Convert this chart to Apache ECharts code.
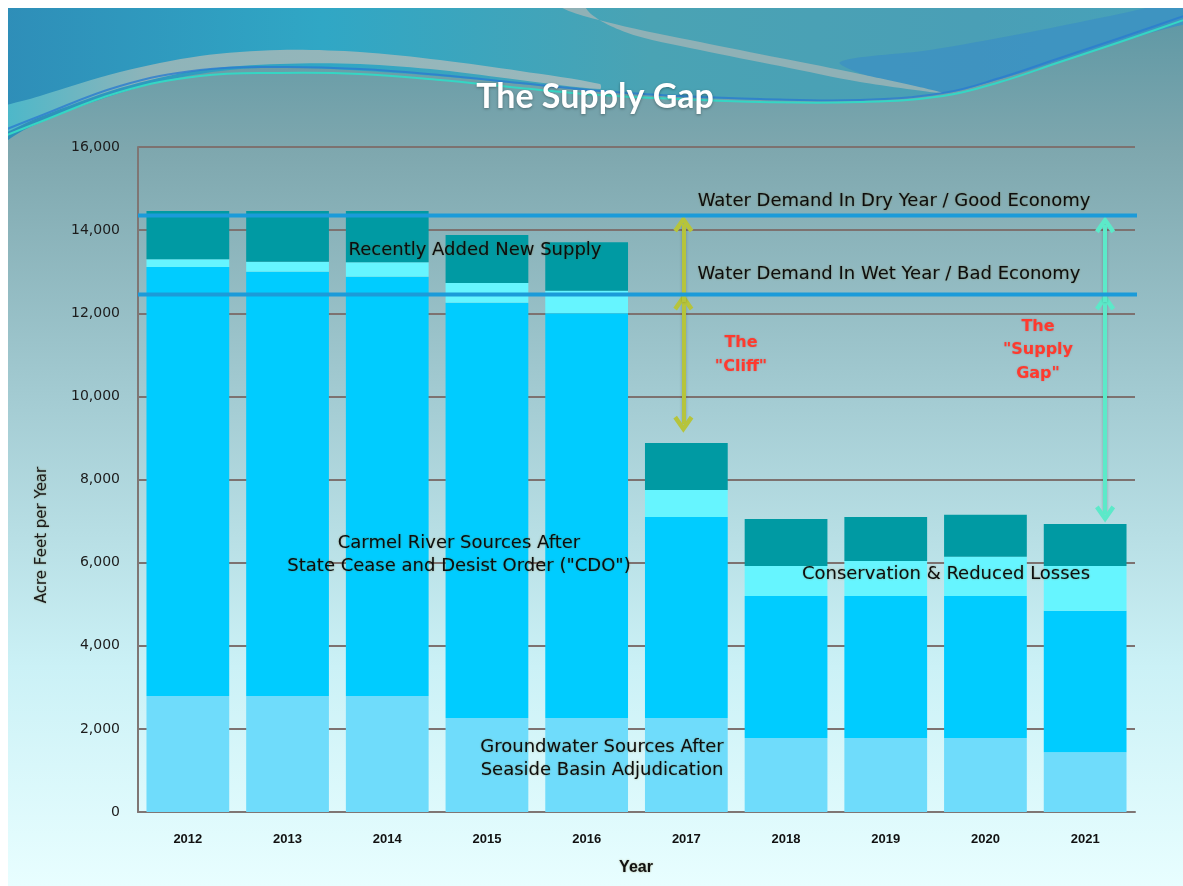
<!DOCTYPE html>
<html>
<head>
<meta charset="utf-8">
<title>The Supply Gap</title>
<script src="https://cdn.jsdelivr.net/npm/echarts@6/dist/echarts.min.js"></script>
<style>
html, body { margin: 0; padding: 0; background: #fff; }
#chart { width: 1183px; height: 886px; }
</style>
</head>
<body>
<div id="chart"></div>
<script>
// data (acre feet per year)
const years = ['2012', '2013', '2014', '2015', '2016', '2017', '2018', '2019', '2020', '2021']
const groundwater = [2790, 2790, 2790, 2260, 2260, 2260, 1780, 1780, 1780, 1440]
const carmelRiver = [10320, 10210, 10090, 9990, 9740, 4840, 3420, 3420, 3420, 3400]
const conservation = [190, 240, 350, 480, 540, 650, 720, 840, 940, 1080]
const newSupply = [1160, 1220, 1230, 1150, 1170, 1130, 1130, 1060, 1010, 1010]

const yMin = 0
const yMax = 16000
const yStep = 2000

// demand levels (horizontal lines)
const dryYearDemand = 14350
const wetYearDemand = 12450

// arrows: x in category units (0..10 across the plot), y ends in acre feet
const cliffArrow = { x: 5.47, top: 14150, mid: 12270, bottom: 9330 }
const gapArrow = { x: 9.7, top: 14130, mid: 12270, bottom: 7170 }

// open chevron head, points up
const chevron = 'path://M5,0 L10,7.4 L8.2,8.8 L5,4 L1.8,8.8 L0,7.4 Z'

const myChart = echarts.init(document.getElementById('chart'))

function arrow(a, color) {
	const line = { color: color, width: 4, type: 'solid', shadowColor: 'rgba(0,0,0,0.25)', shadowBlur: 3 }
	const head = { symbol: chevron, symbolSize: [20, 17], itemStyle: { color: color } }
	return [
		[
			Object.assign({ coord: [a.x, a.bottom], lineStyle: line }, head),
			Object.assign({ coord: [a.x, a.mid] }, head),
		],
		[
			{ coord: [a.x, a.mid], symbol: 'none', lineStyle: line },
			Object.assign({ coord: [a.x, a.top] }, head),
		],
	]
}

function txt(text, x, y, font, color, extra) {
	return Object.assign({
		type: 'text',
		x: x,
		y: y,
		z: 100,
		silent: true,
		style: {
			text: text,
			font: font,
			fill: color,
			align: 'center',
			verticalAlign: 'middle',
			textAlign: 'center',
			textVerticalAlign: 'middle',
			lineHeight: 23,
			textShadowColor: 'rgba(90,70,0,0.45)',
			textShadowBlur: 2,
		},
	}, extra || {})
}

const labelFont = '18px "DejaVu Sans"'
const redFont = 'bold 16px "DejaVu Sans"'

function redText(text, x, y, lh) {
	return txt(text, x, y, redFont, '#ff3a2e', { style: {
		text: text, font: redFont, fill: '#ff3a2e', lineHeight: lh,
		align: 'center', verticalAlign: 'middle', textAlign: 'center', textVerticalAlign: 'middle',
		textShadowColor: 'rgba(120,0,0,0.25)', textShadowBlur: 2,
	} })
}

let option = {
	backgroundColor: '#ffffff',
	animation: false,
	graphic: {
		elements: [
			{
				type: 'rect', z: -20, silent: true,
				shape: { x: 8, y: 8, width: 1175, height: 878 },
				style: {
					fill: {
						type: 'linear', x: 0, y: 0, x2: 0, y2: 1,
						colorStops: [
							{ offset: 0, color: '#5d97a4' },
							{ offset: 0.16, color: '#7ea7ae' },
							{ offset: 0.45, color: '#a4ccd3' },
							{ offset: 0.75, color: '#cbf1f6' },
							{ offset: 1, color: '#e8feff' },
						],
					},
				},
			},
			{
				type: 'polygon', z: -19, silent: true,
				shape: {
					smooth: 0.35,
					points: [[-40, -40], [1230, -40], [1230, 8], [1150, 32], [1060, 60], [990, 82], [943, 93], [860, 100], [760, 100], [660, 96], [560, 88], [470, 79], [380, 72], [300, 68], [230, 70], [160, 82], [90, 103], [30, 127], [-40, 160]],
				},
				style: {
					fill: {
						type: 'linear', x: 0, y: 0, x2: 1, y2: 0,
						colorStops: [
							{ offset: 0, color: '#2e88b5' },
							{ offset: 0.3, color: '#30a7c5' },
							{ offset: 0.55, color: '#4aa3b4' },
							{ offset: 0.8, color: '#4a9fb6' },
							{ offset: 1, color: '#45a3bb' },
						],
					},
				},
			},
			{
				type: 'polygon', z: -18, silent: true,
				shape: {
					smooth: 0.3,
					points: [[840, 62], [930, 50], [1020, 34], [1110, 16], [1230, -8], [1230, 10], [1150, 33], [1060, 61], [990, 82], [943, 93], [880, 80]],
				},
				style: { fill: '#3b8ec4', opacity: 0.7 },
			},
			{
				type: 'polygon', z: -17, silent: true,
				shape: {
					smooth: 0.3,
					points: [[-40, 122], [40, 96], [120, 72], [200, 56], [280, 50], [360, 52], [440, 60], [520, 71], [600, 84], [600, 89], [520, 80], [440, 70], [360, 64], [280, 64], [200, 70], [120, 88], [40, 117], [-40, 150]],
				},
				style: {
					fill: {
						type: 'linear', x: 0, y: 0, x2: 1, y2: 0,
						colorStops: [
							{ offset: 0, color: '#35b9cf' },
							{ offset: 0.3, color: '#8fb4b9' },
							{ offset: 1, color: '#9ab8bc' },
						],
					},
				},
			},
			{
				type: 'polygon', z: -16, silent: true,
				shape: {
					smooth: 0.3,
					points: [[520, -40], [555, 4], [615, 24], [700, 42], [780, 58], [860, 74], [943, 93], [860, 82], [780, 66], [700, 50], [625, 32], [585, 6], [600, -40]],
				},
				style: { fill: '#8fb1b6' },
			},
			{
				type: 'polyline', z: -15, silent: true,
				shape: {
					smooth: 0.4,
					points: [[-40, 148], [40, 116], [120, 86], [200, 70], [280, 67], [360, 69], [440, 75], [520, 83], [600, 91], [680, 96], [760, 99], [860, 100], [943, 93], [1000, 78], [1060, 58], [1120, 38], [1230, 0]],
				},
				style: { stroke: '#2a7cd0', lineWidth: 2, fill: null, opacity: 0.8 },
			},
			{
				type: 'polyline', z: -15, silent: true,
				shape: {
					smooth: 0.4,
					points: [[-40, 154], [40, 122], [120, 92], [200, 76], [280, 73], [360, 74], [440, 80], [520, 88], [600, 95], [680, 99], [760, 102], [860, 102], [943, 96], [1000, 82], [1060, 62], [1120, 42], [1230, 4]],
				},
				style: { stroke: '#35d6c4', lineWidth: 2, fill: null },
			},
			{ type: 'rect', z: -14, silent: true, shape: { x: 0, y: 0, width: 1183, height: 8 }, style: { fill: '#ffffff' } },
			{ type: 'rect', z: -14, silent: true, shape: { x: 0, y: 0, width: 8, height: 886 }, style: { fill: '#ffffff' } },

			// title
			txt('The Supply Gap', 595, 97, 'bold 34px Lato', '#ffffff', {
				style: {
					text: 'The Supply Gap', font: 'bold 34px Lato', fill: '#ffffff',
					align: 'center', verticalAlign: 'middle', textAlign: 'center', textVerticalAlign: 'middle',
					textShadowColor: 'rgba(0,0,0,0.35)', textShadowBlur: 3, textShadowOffsetY: 1,
				},
			}),

			// axis names
			txt('Acre Feet per Year', 42, 535, '15px "DejaVu Sans"', '#1a1a1a', { rotation: Math.PI / 2 }),
			txt('Year', 636, 868, 'bold 16px "Liberation Sans"', '#111111'),

			// in-chart annotations
			txt('Recently Added New Supply', 475, 250, labelFont, '#0d0d0d'),
			txt('Water Demand In Dry Year / Good Economy', 894, 201, labelFont, '#0d0d0d'),
			txt('Water Demand In Wet Year / Bad Economy', 889, 274, labelFont, '#0d0d0d'),
			txt('Carmel River Sources After\nState Cease and Desist Order ("CDO")', 459, 555, labelFont, '#0d0d0d'),
			txt('Conservation & Reduced Losses', 946, 574, labelFont, '#0d0d0d'),
			txt('Groundwater Sources After\nSeaside Basin Adjudication', 602, 759, labelFont, '#0d0d0d'),
			redText('The\n"Cliff"', 741, 355, 24),
			redText('The\n"Supply\nGap"', 1038, 350, 23.5),
		],
	},
	grid: {
		left: 138,
		right: 48,
		top: 147,
		bottom: 74,
		containLabel: false,
	},
	xAxis: [
		{
			type: 'category',
			data: years,
			axisLine: { lineStyle: { color: '#7f7674', width: 2 } },
			axisTick: { show: false },
			axisLabel: { color: '#111', fontWeight: 'bold', fontSize: 13, fontFamily: 'Liberation Sans', margin: 21 },
		},
		{ type: 'value', min: 0, max: 10, show: false },
	],
	yAxis: {
		type: 'value',
		min: yMin,
		max: yMax,
		interval: yStep,
		axisLine: { show: true, lineStyle: { color: '#7f7674', width: 2 } },
		axisTick: { show: false },
		splitLine: { lineStyle: { color: '#7d7270', width: 2 } },
		axisLabel: {
			color: '#1c1c1c',
			fontSize: 14,
			fontFamily: 'DejaVu Sans',
			margin: 18,
			formatter: (v) => v.toLocaleString('en-US'),
		},
	},
	series: [
		{
			name: 'Groundwater Sources After Seaside Basin Adjudication',
			type: 'bar', stack: 'supply', data: groundwater,
			itemStyle: { color: '#6fdcfb' }, barCategoryGap: '17%',
		},
		{
			name: 'Carmel River Sources After State Cease and Desist Order ("CDO")',
			type: 'bar', stack: 'supply', data: carmelRiver,
			itemStyle: { color: '#00ccff' }, barCategoryGap: '17%',
		},
		{
			name: 'Conservation & Reduced Losses',
			type: 'bar', stack: 'supply', data: conservation,
			itemStyle: { color: '#66f5ff' }, barCategoryGap: '17%',
		},
		{
			name: 'Recently Added New Supply',
			type: 'bar', stack: 'supply', data: newSupply,
			itemStyle: { color: '#009aa3' }, barCategoryGap: '17%',
		},
		{
			name: 'Water Demand In Dry Year / Good Economy',
			type: 'line', xAxisIndex: 1, data: [[0, dryYearDemand], [10.12, dryYearDemand]],
			symbol: 'none', clip: false, z: 5, silent: true,
			lineStyle: { color: '#1b9bd9', width: 4 },
			markLine: {
				silent: true, symbol: ['none', 'none'], label: { show: false },
				data: arrow(cliffArrow, '#b6c43c'),
			},
		},
		{
			name: 'Water Demand In Wet Year / Bad Economy',
			type: 'line', xAxisIndex: 1, data: [[0, wetYearDemand], [10.12, wetYearDemand]],
			symbol: 'none', clip: false, z: 5, silent: true,
			lineStyle: { color: '#1b9bd9', width: 4 },
			markLine: {
				silent: true, symbol: ['none', 'none'], label: { show: false },
				data: arrow(gapArrow, '#5ce9c9'),
			},
		},
	],
}
myChart.setOption(option)
</script>
</body>
</html>
